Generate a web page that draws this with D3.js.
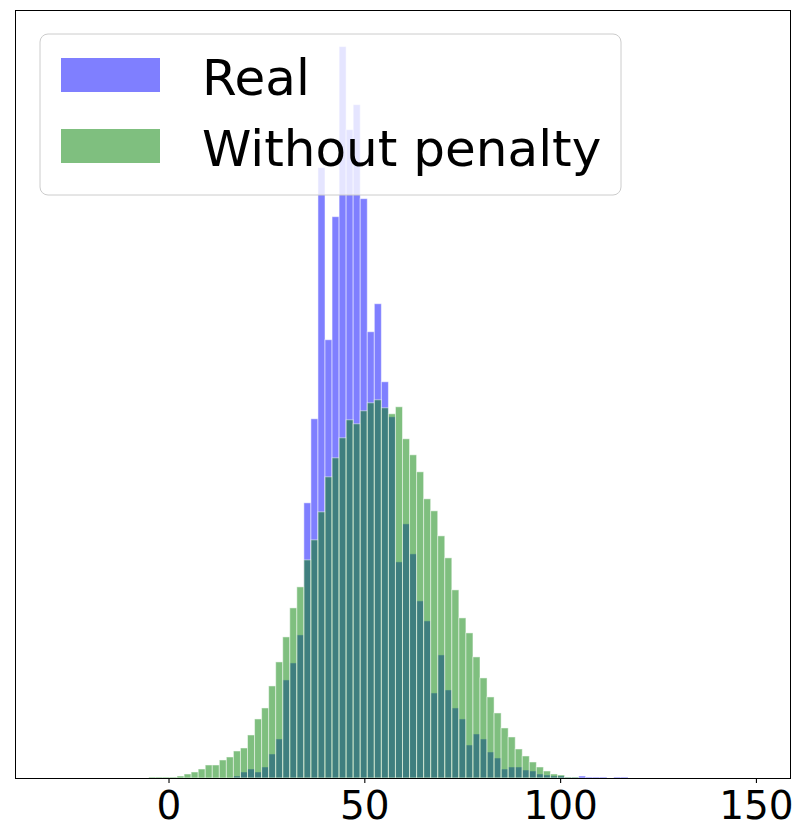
<html>
<head>
<meta charset="utf-8">
<style>
  body { margin: 0; background: #fff; }
  text { font-family: "DejaVu Sans", sans-serif; }
</style>
</head>
<body>
<div id="chartContainer"></div>
<script src="https://cdnjs.cloudflare.com/ajax/libs/d3/7.8.5/d3.min.js"></script>
<script type="text/javascript">
  // shared histogram bins: 100 bins from -30.2 to 149.7
  var binStart = -30.2;
  var binWidth = 1.799;
  var firstBin = 14;   // counts below start at this bin index

  var seriesNames = ["Real", "Without penalty"];
  var seriesColors = ["blue", "green"];
  var tickValues = [0, 50, 100, 150];

  var realCounts = [
    0, 0, 0, 0, 0, 0, 0, 0, 0, 0, 0, 0,
    2, 6, 9, 6, 11, 24, 39, 98, 115, 143, 275, 359,
    610, 438, 561, 731, 648, 673, 579, 446, 474, 396, 361, 216,
    254, 224, 177, 157, 85, 123, 88, 70, 59, 33, 44, 39,
    26, 20, 9, 11, 11, 8, 7, 4, 3, 2, 2, 1,
    1, 2, 1, 1, 1, 0, 1, 1
  ];
  var noPenaltyCounts = [
    1, 1, 1, 1, 2, 4, 6, 9, 13, 13, 18, 21,
    27, 30, 43, 59, 70, 92, 116, 141, 170, 191, 218, 238,
    266, 301, 320, 340, 358, 354, 367, 375, 378, 370, 364, 371,
    339, 323, 306, 279, 267, 242, 220, 188, 160, 145, 121, 100,
    81, 65, 50, 41, 29, 22, 16, 11, 7, 4, 3, 1,
    1, 0, 0, 0, 0, 0, 0, 0
  ];

  var width = 801, height = 837;
  var plotLeft = 15, plotRight = 790, plotTop = 10, plotBottom = 778;

  var svg = d3.select("#chartContainer").append("svg")
    .attr("width", width)
    .attr("height", height);

  var x = d3.scaleLinear().domain([-39.2, 158.7]).range([plotLeft, plotRight]);
  var maxCount = d3.max(realCounts.concat(noPenaltyCounts));
  var y = d3.scaleLinear().domain([0, maxCount * 1.05]).range([plotBottom, plotTop]);

  // draw Real first, green on top
  [realCounts, noPenaltyCounts].forEach(function (counts, s) {
    svg.append("g")
      .selectAll("rect")
      .data(counts)
      .enter()
      .append("rect")
        .attr("x", function (d, i) { return x(binStart + (firstBin + i) * binWidth); })
        .attr("width", function (d, i) {
          var x0 = binStart + (firstBin + i) * binWidth;
          return x(x0 + binWidth) - x(x0);
        })
        .attr("y", function (d) { return y(d); })
        .attr("height", function (d) { return plotBottom - y(d); })
        .style("fill", seriesColors[s])
        .style("fill-opacity", 0.5)
        .style("stroke", "white")
        .style("stroke-opacity", 0.5)
        .style("stroke-width", 1);
  });

  // frame
  svg.append("rect")
    .attr("x", plotLeft + 0.5)
    .attr("y", plotTop + 0.5)
    .attr("width", plotRight - plotLeft)
    .attr("height", plotBottom - plotTop)
    .style("fill", "none")
    .style("stroke", "black")
    .style("stroke-width", 1.1)
    .style("shape-rendering", "crispEdges");

  var xAxis = d3.axisBottom(x).tickValues(tickValues).tickSize(5).tickPadding(8);
  var gx = svg.append("g").attr("transform", "translate(0," + plotBottom + ")").call(xAxis);
  gx.select(".domain").remove();
  gx.selectAll("line").style("stroke", "black").style("stroke-width", 1.1);
  gx.selectAll("text")
    .style("font-family", "DejaVu Sans, sans-serif")
    .style("font-size", "39px")
    .style("fill", "black");

  // legend
  var lg = svg.append("g");
  lg.append("rect")
    .attr("x", 40)
    .attr("y", 34)
    .attr("width", 581)
    .attr("height", 161)
    .attr("rx", 8)
    .style("fill", "white")
    .style("fill-opacity", 0.8)
    .style("stroke", "#cccccc")
    .style("stroke-width", 1);

  seriesNames.forEach(function (name, i) {
    lg.append("rect")
      .attr("x", 61)
      .attr("y", 58 + i * 71)
      .attr("width", 99)
      .attr("height", 34)
      .style("fill", seriesColors[i])
      .style("fill-opacity", 0.5);
    lg.append("text")
      .attr("x", 202)
      .attr("y", 95 + i * 71)
      .style("font-size", "50px")
      .style("fill", "black")
      .text(name);
  });
</script>
</body>
</html>
